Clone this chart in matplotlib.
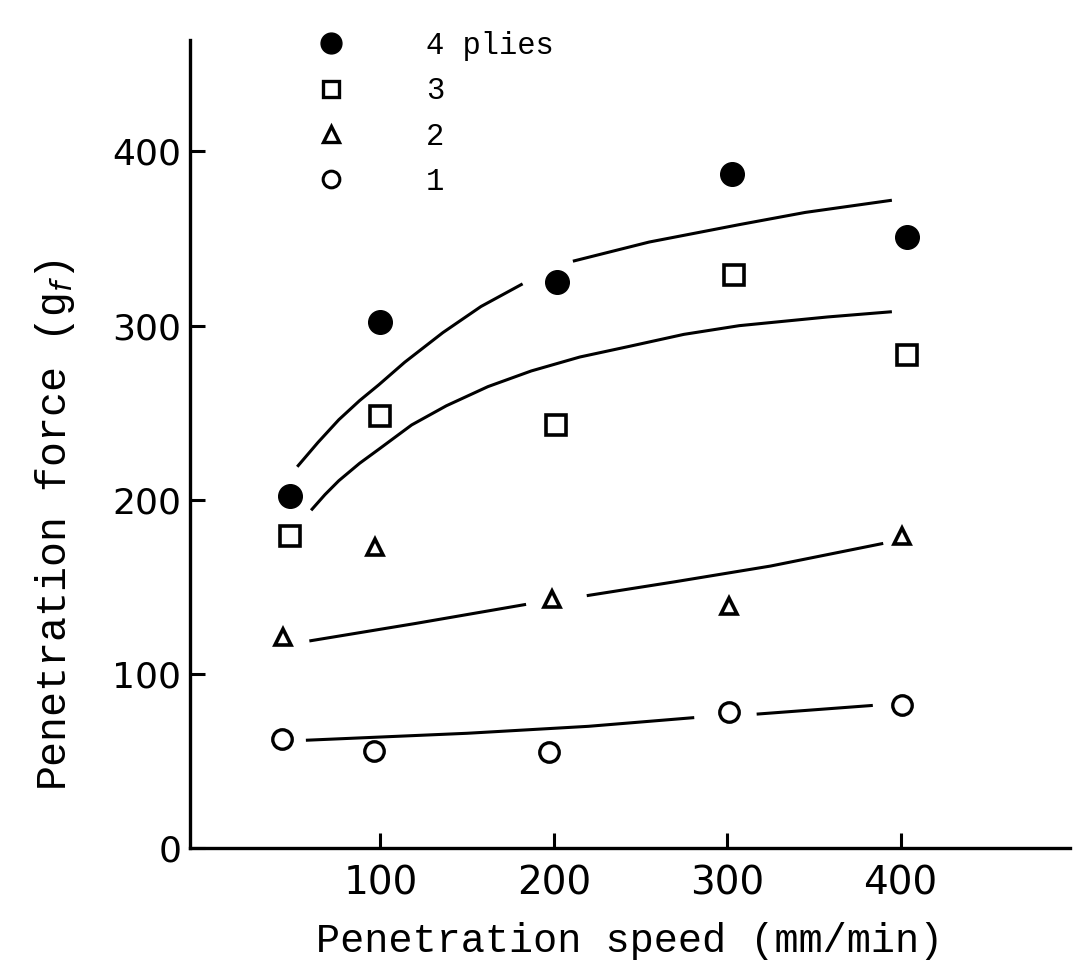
import matplotlib
matplotlib.use("Agg")
import matplotlib.pyplot as plt
from matplotlib.lines import Line2D

x4 = [48, 100, 202, 303, 404]
y4 = [202, 302, 325, 387, 351]
x3 = [48, 100, 201, 304, 404]
y3 = [179, 248, 243, 329, 283]
x2 = [44, 97, 199, 301, 401]
y2 = [121, 173, 143, 139, 179]
x1 = [43, 96, 197, 301, 401]
y1 = [63, 56, 55, 78, 82]

# hand drawn curves, split where the original leaves a gap
c4a_x = [52, 64, 76, 88, 99, 114, 136, 158, 182]
c4a_y = [219, 233, 246, 257, 266, 279, 296, 311, 324]
c4b_x = [211, 255, 307, 345, 395]
c4b_y = [337, 348, 358, 365, 372]
c3_x = [60, 68, 76, 88, 99, 118, 138, 162, 187, 215, 243, 275, 307, 358, 395]
c3_y = [194, 203, 211, 221, 229, 243, 254, 265, 274, 282, 288, 295, 300, 305, 308]
c2a_x = [59, 120, 184]
c2a_y = [119, 129, 140]
c2b_x = [219, 270, 325, 390]
c2b_y = [145, 153, 162, 175]
c1a_x = [57, 150, 220, 281]
c1a_y = [62, 66, 70, 75]
c1b_x = [317, 384]
c1b_y = [77, 82]

legend_labels = ["4 plies", "3", "2", "1"]

mono = ["Liberation Mono", "DejaVu Sans Mono"]

fig = plt.figure(figsize=(10.78, 9.75), dpi=100)
ax = fig.add_axes([0.176, 0.130, 0.817, 0.829])

lw = 2.2
for cx, cy in [(c4a_x, c4a_y), (c4b_x, c4b_y), (c3_x, c3_y), (c2a_x, c2a_y),
               (c2b_x, c2b_y), (c1a_x, c1a_y), (c1b_x, c1b_y)]:
    ax.plot(cx, cy, color="black", lw=lw, solid_capstyle="butt",
            solid_joinstyle="round")

ax.plot(x4, y4, "o", ms=17, color="black", mec="black")
ax.plot(x3, y3, "s", ms=14, mfc="white", mec="black", mew=2.6)
ax.plot(x2, y2, "^", ms=12, mfc="white", mec="black", mew=2.6)
ax.plot(x1, y1, "o", ms=14, mfc="white", mec="black", mew=2.4)

ax.set_xlim(-10, 498)
ax.set_ylim(0, 464)

for s in ["top", "right"]:
    ax.spines[s].set_visible(False)
for s in ["left", "bottom"]:
    ax.spines[s].set_linewidth(2.4)

ax.set_xticks([100, 200, 300, 400])
ax.set_yticks([0, 100, 200, 300, 400])
ax.tick_params(direction="in", length=11, width=2.2)
ax.tick_params(axis="y", labelsize=26, pad=6)
ax.tick_params(axis="x", labelsize=28, pad=12)

ax.set_xlabel("Penetration speed (mm/min)", family=mono, fontsize=29, labelpad=14)
ax.set_ylabel("Penetration force (g$_f$)", family=mono, fontsize=30)
ax.yaxis.set_label_coords(-0.128, 0.40)

handles = [
    Line2D([], [], ls="none", marker="o", ms=15, color="black"),
    Line2D([], [], ls="none", marker="s", ms=12, mfc="white", mec="black", mew=2.4),
    Line2D([], [], ls="none", marker="^", ms=11, mfc="white", mec="black", mew=2.4),
    Line2D([], [], ls="none", marker="o", ms=12, mfc="white", mec="black", mew=2.2),
]
ax.legend(handles, legend_labels, loc="upper left", bbox_to_anchor=(0.112, 1.045),
          frameon=False, prop={"family": mono, "size": 22},
          handlelength=1.0, handletextpad=2.6, labelspacing=0.5)

fig.savefig("out.png", dpi=100)
